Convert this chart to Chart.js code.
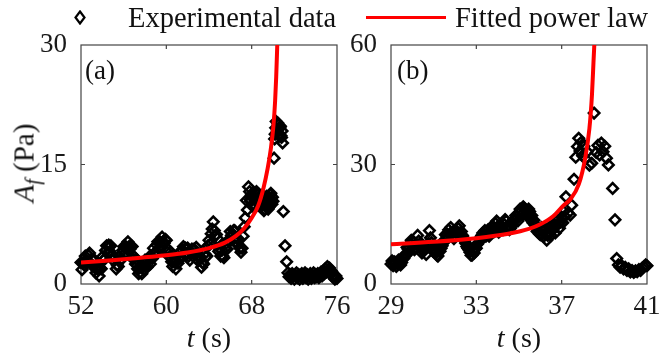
<!DOCTYPE html>
<html>
<head>
<meta charset="utf-8">
<script src="https://cdn.jsdelivr.net/npm/chart.js@4/dist/chart.umd.min.js"></script>
<style>
  body { margin: 0; background: #fff; }
  #wrap { position: relative; width: 659px; height: 358px; overflow: hidden; font-family: "Liberation Serif", "DejaVu Serif", serif; color: #111; }
  canvas { position: absolute; top: 0; }
  #ca { left: 0; }
  #cb { left: 345px; }
  .txt { position: absolute; font-size: 27px; line-height: 1; white-space: nowrap; }
  .leg { font-size: 28.5px; top: 4px; }
  .xt { top: 324px; transform: translateX(-50%); font-size: 28px; }
  .yt { left: 24px; top: 163px; transform: translate(-50%, -50%) rotate(-90deg); font-size: 29px; }
  .yt sub { font-size: 20px; vertical-align: -6px; line-height: 0; }
  #legLine { position: absolute; left: 366px; top: 16px; width: 80px; height: 3px; background: #ff0000; }
  #legMark { position: absolute; left: 74px; top: 10px; }
</style>
</head>
<body>
<div id="wrap">
  <canvas id="ca" width="362" height="358"></canvas>
  <canvas id="cb" width="314" height="358"></canvas>

  <svg id="legMark" width="12" height="15"><polygon points="6,1.5 10.5,7.5 6,13.5 1.5,7.5" fill="none" stroke="#000" stroke-width="2.2"/></svg>
  <div class="txt leg" style="left:128px">Experimental data</div>
  <div id="legLine"></div>
  <div class="txt leg" style="left:455px">Fitted power law</div>

  <div class="txt" style="left:85px;top:57px">(a)</div>
  <div class="txt" style="left:397px;top:57px">(b)</div>

  <div class="txt yt"><i>A</i><sub><i>f</i></sub> (Pa)</div>
  <div class="txt xt" style="left:209px"><i>t</i> (s)</div>
  <div class="txt xt" style="left:519px"><i>t</i> (s)</div>
</div>

<script>
// panel (a): measured amplitude vs time
const tA = [
  52.0,52.1,52.2,52.3,52.4,52.5,52.6,52.7,52.8,52.9,53.0,53.1,53.2,53.3,53.4,53.5,53.6,53.7,53.8,53.9,
  54.0,54.1,54.2,54.3,54.4,54.5,54.6,54.7,54.8,54.9,55.0,55.1,55.2,55.3,55.4,55.5,55.6,55.7,55.8,55.9,
  56.0,56.1,56.2,56.3,56.4,56.5,56.6,56.7,56.8,56.9,57.0,57.1,57.2,57.3,57.4,57.5,57.6,57.7,57.8,57.9,
  58.0,58.1,58.2,58.3,58.4,58.5,58.6,58.7,58.8,58.9,59.0,59.1,59.2,59.3,59.4,59.5,59.6,59.7,59.8,59.9,
  60.0,60.1,60.2,60.3,60.4,60.5,60.6,60.7,60.8,60.9,61.0,61.1,61.2,61.3,61.4,61.5,61.6,61.7,61.8,61.9,
  62.0,62.1,62.2,62.3,62.4,62.5,62.6,62.7,62.8,62.9,63.0,63.1,63.2,63.3,63.4,63.5,63.6,63.7,63.8,63.9,
  64.0,64.1,64.2,64.3,64.4,64.5,64.6,64.7,64.8,64.9,65.0,65.1,65.2,65.3,65.4,65.5,65.6,65.7,65.8,65.9,
  66.0,66.1,66.2,66.3,66.4,66.5,66.6,66.7,66.8,66.9,67.0,67.1,67.2,67.3,67.4,67.5,67.6,67.7,
  67.8,67.85,67.9,67.95,68.0,68.05,68.1,68.15,68.2,68.25,68.3,68.35,68.4,68.45,68.5,68.55,68.6,68.65,68.7,68.75,
  68.8,68.85,68.9,68.95,69.0,69.05,69.1,69.15,69.2,69.25,69.3,69.35,69.4,69.45,69.5,69.55,69.6,69.65,69.7,69.75,
  69.8,69.85,69.9,69.95,70.0,
  70.1,70.15,70.2,70.25,70.3,70.35,70.4,70.45,70.5,70.55,70.6,70.65,70.7,70.75,70.8,70.85,70.9,70.97,71.13,71.28,
  71.4,71.5,71.6,71.7,71.8,71.9,72.0,72.1,72.2,72.3,72.4,72.5,72.6,72.7,72.8,72.9,73.0,73.1,73.2,73.3,
  73.4,73.5,73.6,73.7,73.8,73.9,74.0,74.1,74.2,74.3,74.4,74.5,74.6,74.7,74.8,74.9,75.0,75.1,75.2,75.3,
  75.4,75.5,75.6,75.7,75.8,75.9,76.0
];
const ampA = [
  2.7,1.8,2.7,2.4,3.5,2.9,2.7,3.6,3.9,2.6,3.1,2.3,3.1,2.0,1.4,2.0,1.9,1.0,2.0,1.9,
  3.4,3.0,3.1,4.2,4.8,3.9,4.9,4.1,4.8,3.6,3.0,3.4,3.3,1.9,2.4,2.2,3.5,3.0,3.1,4.2,
  4.7,3.8,4.7,4.4,5.3,4.7,4.4,4.8,4.7,3.1,3.4,2.5,3.1,1.9,1.3,2.0,2.2,1.3,2.2,1.8,
  3.0,2.3,2.1,3.0,3.4,2.5,3.5,3.2,4.5,3.9,3.9,4.9,5.3,4.4,5.3,4.9,5.9,5.3,5.1,5.6,
  5.5,4.0,4.3,3.4,4.0,2.8,2.2,2.8,2.8,1.9,2.9,2.6,3.9,3.3,3.3,4.3,4.7,3.7,4.5,3.7,
  4.5,3.5,3.0,4.0,4.4,3.5,4.4,3.7,4.6,3.5,2.9,3.4,3.4,2.1,2.7,2.5,3.8,3.4,3.5,4.8,
  5.5,5.0,6.3,6.9,7.8,6.7,6.1,6.2,5.7,4.1,4.4,3.5,4.2,3.5,3.3,4.5,5.1,4.4,5.5,5.3,
  6.6,6.1,6.1,6.7,6.7,5.3,5.7,4.9,5.6,4.5,4.0,4.5,6.0,7.2,8.3,10.5,9.3,12.2,
  11.6,10.6,10.4,11.0,11.2,9.8,10.0,10.9,10.8,9.9,9.6,10.7,10.6,11.6,11.4,10.4,10.2,11.3,11.0,10.0,
  9.8,11.0,10.6,9.9,11.2,10.3,10.0,9.2,9.4,10.8,10.4,9.7,11.0,10.5,10.2,9.4,9.6,10.4,10.8,11.2,
  11.4,10.4,10.0,10.9,10.4,
  15.8,18.2,18.8,19.6,20.4,19.0,19.2,20.2,20.0,18.8,18.6,19.6,19.8,18.6,18.4,19.2,17.7,9.1,4.8,2.8,
  1.4,0.9,1.2,0.7,1.3,1.0,0.6,1.1,1.4,0.8,1.2,0.6,1.0,1.3,0.7,1.1,1.4,0.8,1.2,0.6,
  1.0,1.3,0.7,1.1,1.4,0.8,1.2,0.9,1.3,0.8,1.2,1.5,1.0,1.6,1.3,1.9,1.5,2.2,1.7,2.0,
  1.3,1.6,0.9,1.2,0.6,1.0,0.7
];
// fitted power law, panel (a)
const fitTA = [52.0,54.0,56.0,58.0,60.0,62.0,64.0,65.5,66.5,67.3,68.0,68.6,69.1,69.5,69.8,70.05,70.2,70.3,70.4];
const fitAA = [2.7,2.9,3.1,3.35,3.6,3.95,4.5,5.2,6.0,7.0,8.3,9.8,12.0,14.5,17.0,20.0,23.0,26.0,30.0];

// panel (b)
const tB = [
  29.0,29.05,29.1,29.15,29.2,29.25,29.3,29.35,29.4,29.45,29.5,29.55,29.6,29.65,29.7,29.75,29.8,29.85,29.9,29.95,
  30.0,30.05,30.1,30.15,30.2,30.25,30.3,30.35,30.4,30.45,30.5,30.55,30.6,30.65,30.7,30.75,30.8,30.85,30.9,30.95,
  31.0,31.05,31.1,31.15,31.2,31.25,31.3,31.35,31.4,31.45,31.5,31.55,31.6,31.65,31.7,31.75,31.8,31.85,31.9,31.95,
  32.0,32.05,32.1,32.15,32.2,32.25,32.3,32.35,32.4,32.45,32.5,32.55,32.6,32.65,32.7,32.75,32.8,32.85,32.9,32.95,
  33.0,33.05,33.1,33.15,33.2,33.25,33.3,33.35,33.4,33.45,33.5,33.55,33.6,33.65,33.7,33.75,33.8,33.85,33.9,33.95,
  34.0,34.05,34.1,34.15,34.2,34.25,34.3,34.35,34.4,34.45,34.5,34.55,34.6,34.65,34.7,34.75,34.8,34.85,34.9,34.95,
  35.0,35.05,35.1,35.15,35.2,35.25,35.3,35.35,35.4,35.45,35.5,35.55,35.6,35.65,35.7,35.75,35.8,35.85,35.9,35.95,
  36.0,36.05,36.1,36.15,36.2,36.25,36.3,36.35,36.4,36.45,36.5,36.55,36.6,36.65,36.7,36.75,36.8,36.85,36.9,36.95,
  37.0,37.05,37.1,37.15,37.2,37.3,37.4,37.47,37.58,37.66,37.74,37.8,37.86,37.92,37.98,38.04,38.12,38.2,38.3,38.41,
  38.52,38.62,38.7,38.78,38.86,38.94,39.02,39.1,39.19,39.39,39.5,39.58,
  39.66,39.74,39.82,39.9,39.98,40.06,40.14,40.22,40.3,40.38,40.46,40.54,40.62,40.7,40.78,40.86,40.94,41.0
];
const ampB = [
  5.0,5.8,4.6,5.6,5.4,4.4,5.0,6.0,5.8,4.8,5.4,6.6,6.4,7.0,7.6,9.2,8.8,8.0,10.2,11.0,
  9.4,10.6,8.6,9.2,9.8,12.2,10.8,9.2,9.6,7.8,8.4,9.4,8.8,7.4,9.6,10.2,13.4,11.6,10.4,8.4,
  9.0,8.2,7.8,7.2,7.0,8.8,8.2,9.0,9.6,10.4,11.0,12.4,12.2,11.4,13.6,12.6,14.2,12.8,13.0,11.4,
  12.0,12.8,13.2,14.0,14.6,12.6,13.2,12.2,11.6,10.8,10.2,9.4,9.0,8.6,8.0,7.2,7.2,8.4,7.8,8.8,
  9.0,10.0,10.4,11.4,11.6,12.2,12.8,11.8,13.4,12.0,12.6,13.6,12.0,12.6,13.0,14.6,14.2,13.2,15.2,15.8,
  14.4,13.0,13.4,14.8,14.2,13.6,15.0,16.2,15.8,14.2,14.8,13.6,14.0,15.4,14.8,16.2,15.8,17.2,16.8,15.8,
  17.6,18.8,18.4,17.4,19.4,19.0,18.6,17.2,17.6,18.8,18.2,16.6,17.2,15.4,16.0,14.8,14.6,13.2,13.4,12.6,
  12.4,14.2,13.2,12.0,14.0,12.4,11.0,12.2,13.1,14.4,12.2,13.4,14.0,15.0,12.8,14.6,16.0,15.2,14.0,15.6,
  16.8,15.4,18.2,17.0,21.9,17.8,17.3,19.8,26.3,31.8,34.5,36.6,33.4,35.6,32.2,34.6,31.4,33.2,29.8,30.3,
  42.9,33.0,34.8,32.4,35.4,33.2,34.6,31.6,29.9,24.0,16.1,6.4,
  4.8,4.2,4.6,3.8,4.2,3.4,3.8,3.0,3.4,2.9,3.3,3.1,3.6,3.4,4.0,4.4,4.8,4.6
];
const fitTB = [29.0,31.0,33.0,34.5,35.5,36.0,36.6,37.1,37.4,37.8,38.1,38.3,38.42,38.49,38.53];
const fitAB = [10.0,10.6,11.5,12.6,13.9,15.0,17.0,19.8,21.2,25.0,31.5,39.0,47.5,55.5,60.0];

const xTicksA = [52, 60, 68, 76];
const yTicksA = [0, 15, 30];
const xTicksB = [29, 33, 37, 41];
const yTicksB = [0, 30, 60];

// box around the plot area with short inward tick marks on all four sides
const frame = {
  id: 'frame',
  beforeDatasetsDraw(chart) {
    const { ctx, chartArea: a, scales: { x, y } } = chart;
    const len = 4;
    ctx.save();
    ctx.strokeStyle = '#444';
    ctx.lineWidth = 1.2;
    ctx.strokeRect(a.left, a.top, a.right - a.left, a.bottom - a.top);
    ctx.beginPath();
    x.ticks.slice(1, -1).forEach(t => {
      const px = x.getPixelForValue(t.value);
      ctx.moveTo(px, a.bottom); ctx.lineTo(px, a.bottom - len);
      ctx.moveTo(px, a.top); ctx.lineTo(px, a.top + len);
    });
    y.ticks.slice(1, -1).forEach(t => {
      const py = y.getPixelForValue(t.value);
      ctx.moveTo(a.left, py); ctx.lineTo(a.left + len, py);
      ctx.moveTo(a.right, py); ctx.lineTo(a.right - len, py);
    });
    ctx.stroke();
    ctx.restore();
  }
};

const tickFont = { family: "'Liberation Serif', 'DejaVu Serif', serif", size: 27 };

function panel(id, t, amp, fitT, fitA, xTicks, yTicks, yWidth, padRight) {
  return new Chart(document.getElementById(id), {
    type: 'scatter',
    data: {
      datasets: [
        {
          data: fitT.map((v, i) => ({ x: v, y: fitA[i] })),
          showLine: true, borderColor: '#ff0000', borderWidth: 4,
          pointRadius: 0, cubicInterpolationMode: 'monotone', order: 0
        },
        {
          data: t.map((v, i) => ({ x: v, y: amp[i] })),
          pointStyle: 'rectRot', pointRadius: 5.2, pointBorderWidth: 2.6,
          borderColor: '#000', backgroundColor: 'rgba(255,255,255,0)',
          clip: false, order: 1
        }
      ]
    },
    options: {
      responsive: false, animation: false, events: [],
      layout: { padding: { top: 45, right: padRight, left: 0, bottom: 0 } },
      plugins: { legend: { display: false }, tooltip: { enabled: false } },
      scales: {
        x: {
          type: 'linear', min: xTicks[0], max: xTicks[xTicks.length - 1],
          grid: { display: false, drawTicks: false }, border: { display: false },
          afterBuildTicks: s => { s.ticks = xTicks.map(v => ({ value: v })); },
          afterFit: s => { s.height = 74; s.paddingLeft = 0; s.paddingRight = 0; },
          ticks: { padding: 7, color: '#1a1a1a', font: tickFont, maxRotation: 0, autoSkip: false }
        },
        y: {
          type: 'linear', min: yTicks[0], max: yTicks[yTicks.length - 1],
          grid: { display: false, drawTicks: false }, border: { display: false },
          afterBuildTicks: s => { s.ticks = yTicks.map(v => ({ value: v })); },
          afterFit: s => { s.width = yWidth; s.paddingTop = 0; s.paddingBottom = 0; },
          ticks: { padding: 14, color: '#1a1a1a', font: tickFont, autoSkip: false }
        }
      }
    },
    plugins: [frame]
  });
}

// canvas (a) is 362 wide so the last x label is not cut off; plot area spans 81..337
panel('ca', tA, ampA, fitTA, fitAA, xTicksA, yTicksA, 81, 25);
panel('cb', tB, ampB, fitTB, fitAB, xTicksB, yTicksB, 46, 12);
</script>
</body>
</html>
